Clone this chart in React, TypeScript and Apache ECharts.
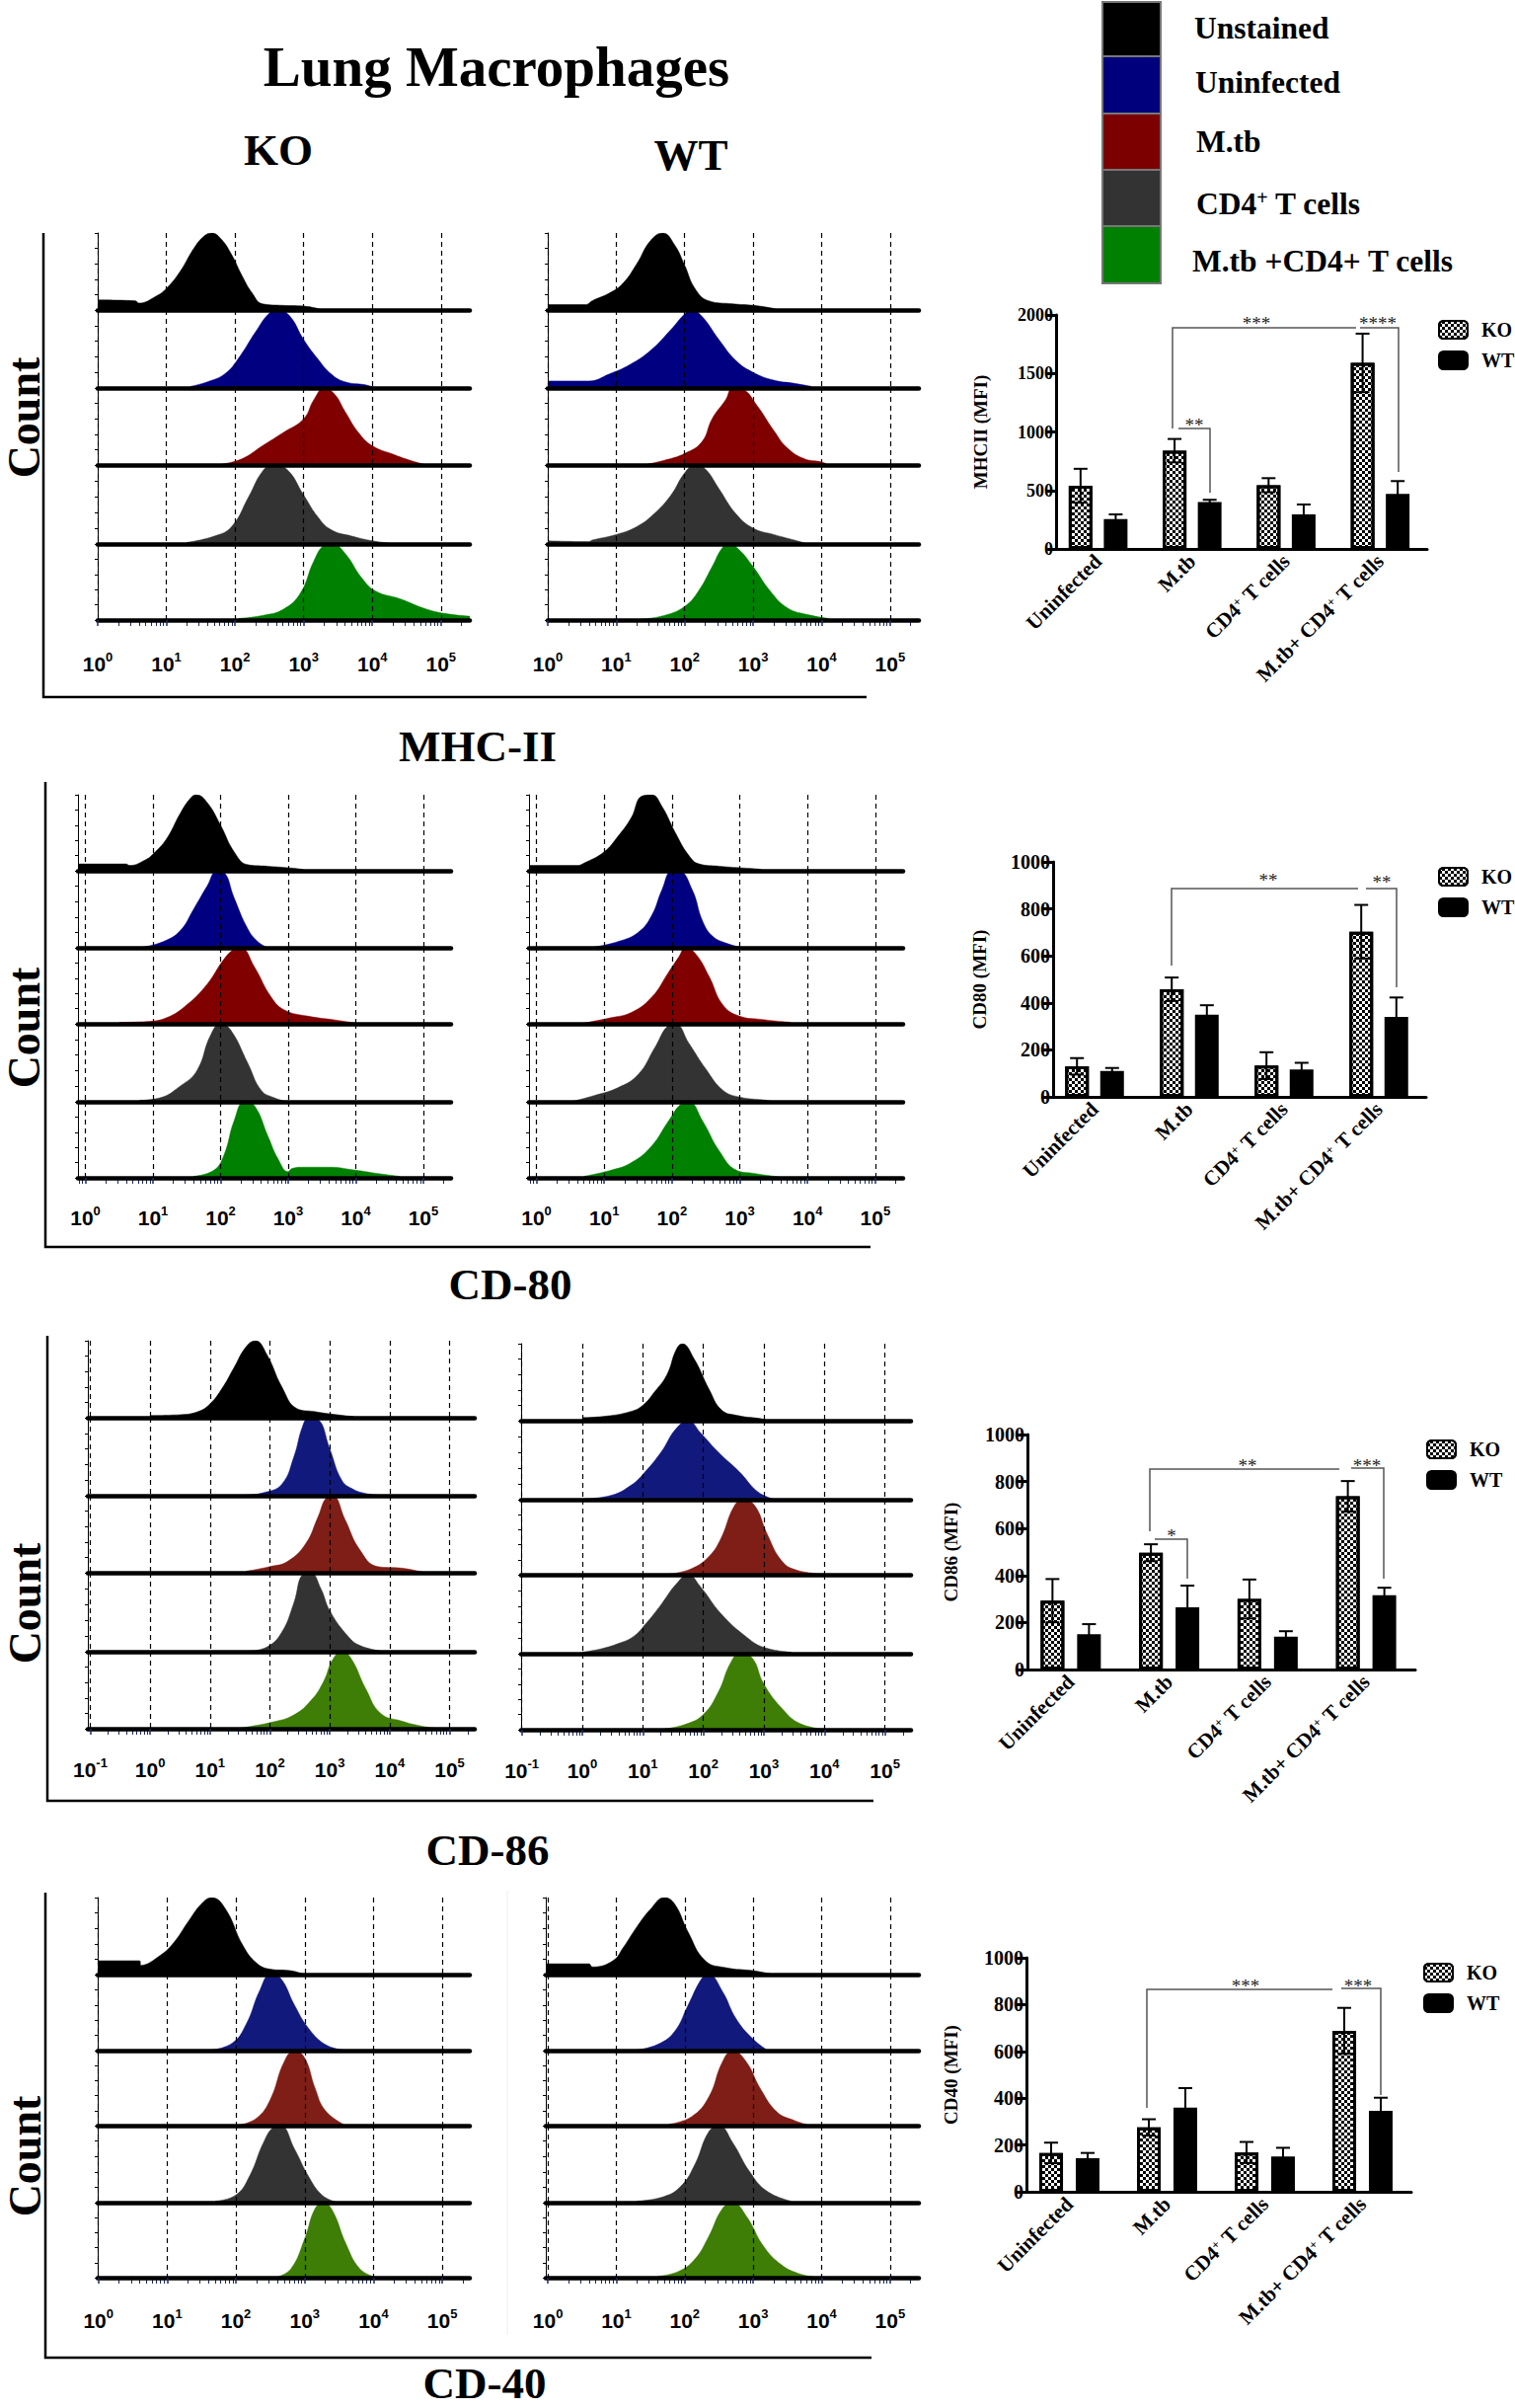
import React, { useEffect, useRef } from "react";
import * as echarts from "echarts";

type Pt = number[];

// ---------- histograms: [log10(fluorescence), % of panel height] ----------
const MHC_KO_UNSTAINED: Pt[] = [[0,13],[0.55,12],[0.6,9],[0.85,18],[1.0,28],[1.2,50],[1.4,80],[1.55,96],[1.66,100],[1.8,92],[1.95,72],[2.1,45],[2.25,22],[2.4,8],[2.7,6],[3.0,5],[3.2,2],[3.25,0]];
const MHC_KO_UNINFECTED: Pt[] = [[1.35,2],[1.6,8],[1.85,18],[2.05,38],[2.3,72],[2.5,96],[2.63,100],[2.8,92],[3.0,62],[3.2,38],[3.4,18],[3.6,8],[3.9,4],[4.05,0]];
const MHC_KO_MTB: Pt[] = [[1.8,1],[2.1,8],[2.4,25],[2.7,42],[3.0,60],[3.15,85],[3.3,100],[3.45,92],[3.6,70],[3.8,42],[4.0,25],[4.3,14],[4.55,6],[4.75,1]];
const MHC_KO_CD4: Pt[] = [[1.3,2],[1.7,10],[1.95,22],[2.2,60],[2.4,92],[2.55,100],[2.75,95],[3.0,62],[3.2,35],[3.4,18],[3.7,10],[4.0,4],[4.25,1]];
const MHC_KO_BOTH: Pt[] = [[2.05,2],[2.4,6],[2.7,14],[2.95,35],[3.15,78],[3.3,98],[3.42,100],[3.6,88],[3.85,55],[4.05,38],[4.4,28],[4.8,14],[5.1,8],[5.42,5]];
const MHC_WT_UNSTAINED: Pt[] = [[0,7],[0.55,7],[0.65,12],[0.9,22],[1.1,35],[1.3,60],[1.5,90],[1.68,100],[1.85,85],[2.0,58],[2.15,28],[2.35,12],[2.7,8],[3.0,6],[3.3,2],[3.35,0]];
const MHC_WT_UNINFECTED: Pt[] = [[0,9],[0.6,9],[0.9,18],[1.2,30],[1.5,48],[1.8,75],[2.0,95],[2.1,100],[2.25,92],[2.5,62],[2.75,35],[3.0,20],[3.3,10],[3.6,6],[3.85,2]];
const MHC_WT_MTB: Pt[] = [[1.45,1],[1.7,6],[2.0,15],[2.25,30],[2.4,60],[2.6,85],[2.7,100],[2.85,98],[3.05,78],[3.3,45],[3.5,22],[3.75,8],[4.0,4],[4.1,0]];
const MHC_WT_CD4: Pt[] = [[0,4],[0.6,3],[0.65,5],[1.0,12],[1.3,22],[1.55,38],[1.8,62],[2.0,90],[2.15,100],[2.3,95],[2.5,70],[2.75,38],[3.0,20],[3.3,12],[3.6,5],[3.8,0]];
const MHC_WT_BOTH: Pt[] = [[1.35,1],[1.7,6],[2.0,18],[2.2,38],[2.4,70],[2.55,95],[2.65,100],[2.8,92],[3.0,70],[3.25,38],[3.5,16],[3.8,7],[4.1,2]];

const CD80_KO_UNSTAINED: Pt[] = [[-0.11,9],[0.6,9],[0.65,7],[0.9,15],[1.0,22],[1.2,42],[1.4,75],[1.55,95],[1.64,100],[1.8,90],[2.0,60],[2.2,25],[2.4,8],[2.7,6],[3.0,4],[3.2,2],[3.25,0]];
const CD80_KO_UNINFECTED: Pt[] = [[0.85,1],[1.15,8],[1.4,22],[1.6,50],[1.8,80],[1.95,100],[2.05,98],[2.2,65],[2.4,25],[2.55,8],[2.7,0]];
const CD80_KO_MTB: Pt[] = [[0.5,2],[0.9,3],[1.2,8],[1.5,25],[1.8,52],[2.05,85],[2.2,98],[2.3,100],[2.5,75],[2.75,35],[2.95,18],[3.3,10],[3.7,5],[4.0,1]];
const CD80_KO_CD4: Pt[] = [[0.8,2],[1.1,5],[1.4,20],[1.65,40],[1.85,85],[2.0,100],[2.15,92],[2.4,50],[2.6,15],[2.8,5],[3.0,0]];
const CD80_KO_BOTH: Pt[] = [[1.6,2],[1.9,10],[2.05,30],[2.2,75],[2.35,100],[2.5,95],[2.7,55],[2.85,25],[3.0,8],[3.05,12],[3.2,14],[3.6,14],[4.0,10],[4.3,6],[4.65,2]];
const CD80_WT_UNSTAINED: Pt[] = [[-0.11,7],[0.6,7],[0.7,10],[1.0,25],[1.2,45],[1.4,70],[1.55,98],[1.7,100],[1.85,85],[2.05,50],[2.25,20],[2.4,9],[2.7,6],[3.0,4],[3.3,2],[3.35,0]];
const CD80_WT_UNINFECTED: Pt[] = [[0.85,1],[1.2,8],[1.5,20],[1.7,42],[1.85,75],[2.0,100],[2.1,100],[2.3,75],[2.45,35],[2.6,15],[2.8,6],[3.0,1]];
const CD80_WT_MTB: Pt[] = [[0.7,1],[1.1,8],[1.4,15],[1.7,35],[1.95,68],[2.1,88],[2.2,100],[2.35,92],[2.55,62],[2.75,25],[3.0,10],[3.3,6],[3.75,2]];
const CD80_WT_CD4: Pt[] = [[0.55,1],[0.85,8],[1.2,18],[1.5,35],[1.75,70],[1.95,98],[2.05,100],[2.25,75],[2.5,42],[2.75,15],[3.0,6],[3.4,2],[3.5,0]];
const CD80_WT_BOTH: Pt[] = [[0.7,2],[1.1,10],[1.4,20],[1.7,42],[1.95,75],[2.15,98],[2.25,100],[2.45,75],[2.7,35],[2.95,10],[3.2,6],[3.6,1]];

const CD86_KO_UNSTAINED: Pt[] = [[0,3],[0.5,4],[0.8,8],[1.0,18],[1.2,38],[1.4,65],[1.6,92],[1.76,100],[1.95,82],[2.2,40],[2.45,12],[2.75,8],[3.0,5],[3.4,1.5]];
const CD86_KO_UNINFECTED: Pt[] = [[1.6,1],[1.9,4],[2.2,15],[2.4,50],[2.55,90],[2.65,100],[2.8,98],[3.0,60],[3.2,20],[3.4,8],[3.6,3],[3.8,1]];
const CD86_KO_MTB: Pt[] = [[1.6,2],[2.0,8],[2.3,15],[2.6,38],[2.8,72],[2.95,98],[3.05,100],[3.25,70],[3.5,30],[3.8,8],[4.2,6],[4.55,1]];
const CD86_KO_CD4: Pt[] = [[1.65,1],[1.95,6],[2.2,25],[2.4,62],[2.55,98],[2.68,100],[2.85,80],[3.0,52],[3.3,20],[3.5,8],[3.85,1]];
const CD86_KO_BOTH: Pt[] = [[1.5,1],[2.0,8],[2.4,18],[2.7,38],[2.9,62],[3.05,90],[3.2,100],[3.35,92],[3.6,52],[3.85,20],[4.2,10],[4.5,4],[4.75,1]];
const CD86_WT_UNSTAINED: Pt[] = [[0,4],[0.4,6],[0.8,12],[1.0,20],[1.2,38],[1.4,60],[1.55,92],[1.65,100],[1.85,80],[2.1,40],[2.3,14],[2.55,7],[3.0,2],[3.05,0]];
const CD86_WT_UNINFECTED: Pt[] = [[0.05,1],[0.5,6],[0.8,18],[1.0,32],[1.3,60],[1.55,90],[1.75,100],[1.95,85],[2.25,60],[2.6,35],[2.9,10],[3.15,1]];
const CD86_WT_MTB: Pt[] = [[1.45,1],[1.8,8],[2.1,25],[2.3,50],[2.5,90],[2.65,100],[2.85,92],[3.05,55],[3.3,18],[3.55,6],[4.0,1]];
const CD86_WT_CD4: Pt[] = [[0,2],[0.3,6],[0.6,13],[0.85,22],[1.05,38],[1.3,62],[1.55,88],[1.75,100],[1.95,85],[2.3,50],[2.7,22],[3.0,8],[3.45,2]];
const CD86_WT_BOTH: Pt[] = [[1.35,1],[1.7,7],[2.0,20],[2.25,50],[2.45,88],[2.6,100],[2.8,95],[3.0,60],[3.3,28],[3.6,8],[4.0,1]];

const CD40_KO_UNSTAINED: Pt[] = [[0,18],[0.6,18],[0.62,12],[0.9,25],[1.1,42],[1.3,68],[1.5,92],[1.65,100],[1.85,85],[2.1,38],[2.3,15],[2.5,7],[2.8,5],[3.0,0]];
const CD40_KO_UNINFECTED: Pt[] = [[1.65,1],[1.95,10],[2.15,35],[2.35,80],[2.5,100],[2.65,95],[2.85,60],[3.05,30],[3.3,8],[3.55,1]];
const CD40_KO_MTB: Pt[] = [[2.05,1],[2.3,10],[2.5,35],[2.7,85],[2.85,100],[3.0,90],[3.15,50],[3.3,20],[3.58,1]];
const CD40_KO_CD4: Pt[] = [[1.7,2],[2.0,10],[2.2,35],[2.4,78],[2.55,98],[2.65,100],[2.85,70],[3.05,35],[3.25,10],[3.45,1]];
const CD40_KO_BOTH: Pt[] = [[2.6,1],[2.8,12],[3.0,52],[3.15,92],[3.27,100],[3.4,90],[3.6,45],[3.8,12],[4.02,1]];
const CD40_WT_UNSTAINED: Pt[] = [[-0.03,14],[0.6,14],[0.65,10],[0.95,18],[1.1,35],[1.3,62],[1.5,85],[1.7,100],[1.85,92],[2.05,55],[2.3,18],[2.6,9],[3.0,5],[3.25,1]];
const CD40_WT_UNINFECTED: Pt[] = [[1.3,1],[1.6,8],[1.85,25],[2.05,60],[2.25,95],[2.35,100],[2.55,78],[2.75,42],[3.0,15],[3.2,1]];
const CD40_WT_MTB: Pt[] = [[1.77,2],[2.1,12],[2.35,38],[2.55,85],[2.7,100],[2.9,85],[3.1,50],[3.35,18],[3.6,7],[3.8,1]];
const CD40_WT_CD4: Pt[] = [[1.3,2],[1.7,8],[1.95,22],[2.15,50],[2.35,92],[2.5,100],[2.7,78],[2.95,40],[3.2,15],[3.55,2]];
const CD40_WT_BOTH: Pt[] = [[1.6,2],[1.9,8],[2.15,25],[2.35,55],[2.55,92],[2.7,100],[2.9,82],[3.15,42],[3.4,18],[3.65,6],[3.9,1]];

// ---------- bar charts ----------
const CATEGORIES = ["Uninfected", "M.tb", "CD4+ T cells", "M.tb+ CD4+ T cells"];
const MHC_KO = [540, 840, 545, 1590];
const MHC_KO_TOP = [685, 940, 605, 1840];
const MHC_WT = [255, 400, 295, 470];
const MHC_WT_TOP = [295, 420, 380, 580];
const CD80_KO = [130, 458, 133, 703];
const CD80_KO_TOP = [165, 508, 190, 817];
const CD80_WT = [110, 350, 117, 340];
const CD80_WT_TOP = [123, 390, 145, 423];
const CD86_KO = [293, 497, 300, 737];
const CD86_KO_TOP = [385, 533, 383, 802];
const CD86_WT = [150, 265, 140, 316];
const CD86_WT_TOP = [193, 357, 163, 348];
const CD40_KO = [166, 275, 168, 688];
const CD40_KO_TOP = [210, 310, 213, 786];
const CD40_WT = [143, 360, 151, 346];
const CD40_WT_TOP = [166, 443, 188, 402];

const SERIF = "Liberation Serif";
const SANS = "Liberation Sans";
const COLORS_A = ["#000000", "#000080", "#800000", "#333333", "#008000"];
const COLORS_B = ["#000000", "#12197c", "#7e1e16", "#333333", "#3e7d06"];
const LEGEND_NAMES = ["Unstained", "Uninfected", "M.tb", "CD4+ T cells", "M.tb +CD4+ T cells"];

const ROWS = [
  { colors: COLORS_A, labelMargin: 31, xTicks: [0, 1, 2, 3, 4, 5], cols: [
    { left: 99, right: 476, min: 0, max: 5.42, tops: [236, 314, 393, 471, 551, 628], hist: [MHC_KO_UNSTAINED, MHC_KO_UNINFECTED, MHC_KO_MTB, MHC_KO_CD4, MHC_KO_BOTH] },
    { left: 555, right: 931, min: 0, max: 5.42, tops: [236, 314, 393, 471, 551, 628], hist: [MHC_WT_UNSTAINED, MHC_WT_UNINFECTED, MHC_WT_MTB, MHC_WT_CD4, MHC_WT_BOTH] },
  ] },
  { colors: COLORS_A, labelMargin: 27, xTicks: [0, 1, 2, 3, 4, 5], cols: [
    { left: 79, right: 457, min: -0.11, max: 5.41, tops: [805, 882, 960, 1037, 1116, 1193], hist: [CD80_KO_UNSTAINED, CD80_KO_UNINFECTED, CD80_KO_MTB, CD80_KO_CD4, CD80_KO_BOTH] },
    { left: 536, right: 915, min: -0.11, max: 5.41, tops: [805, 882, 960, 1037, 1116, 1193], hist: [CD80_WT_UNSTAINED, CD80_WT_UNINFECTED, CD80_WT_MTB, CD80_WT_CD4, CD80_WT_BOTH] },
  ] },
  { colors: COLORS_B, labelMargin: 28, xTicks: [-1, 0, 1, 2, 3, 4, 5], cols: [
    { left: 89, right: 481, min: -1.04, max: 5.42, tops: [1358, 1436, 1515, 1593, 1673, 1751], hist: [CD86_KO_UNSTAINED, CD86_KO_UNINFECTED, CD86_KO_MTB, CD86_KO_CD4, CD86_KO_BOTH] },
    { left: 528, right: 923, min: -1.01, max: 5.43, tops: [1361, 1439, 1519, 1595, 1675, 1752], hist: [CD86_WT_UNSTAINED, CD86_WT_UNINFECTED, CD86_WT_MTB, CD86_WT_CD4, CD86_WT_BOTH] },
  ] },
  { colors: COLORS_B, labelMargin: 30, xTicks: [0, 1, 2, 3, 4, 5], cols: [
    { left: 99, right: 476, min: -0.01, max: 5.4, tops: [1922, 2000, 2077, 2153, 2231, 2307], hist: [CD40_KO_UNSTAINED, CD40_KO_UNINFECTED, CD40_KO_MTB, CD40_KO_CD4, CD40_KO_BOTH] },
    { left: 553, right: 931, min: -0.03, max: 5.42, tops: [1922, 2000, 2077, 2153, 2231, 2307], hist: [CD40_WT_UNSTAINED, CD40_WT_UNINFECTED, CD40_WT_MTB, CD40_WT_CD4, CD40_WT_BOTH] },
  ] },
];

const BARS = [
  { label: "MHCII (MFI)", max: 2000, step: 500, left: 1065, width: 381, top: 319, bottom: 556, axisShift: 5, gap: "48%", nameGap: 67, spacing: 35.6, font: 18,
    ko: MHC_KO, koTop: MHC_KO_TOP, wt: MHC_WT, wtTop: MHC_WT_TOP, legend: [1457, 324, 18],
    brackets: [[[1188, 434], [1188, 332], [1374, 332]], [[1378, 332], [1417, 332], [1417, 478]], [[1194, 434], [1226, 434], [1226, 499]]],
    stars: [["***", 1273, 327], ["****", 1396, 327], ["**", 1210, 430]] },
  { label: "CD80 (MFI)", max: 1000, step: 200, left: 1061, width: 384, top: 873, bottom: 1111, axisShift: 6, gap: "48%", nameGap: 65, spacing: 35.6, font: 20,
    ko: CD80_KO, koTop: CD80_KO_TOP, wt: CD80_WT, wtTop: CD80_WT_TOP, legend: [1457, 878, 18],
    brackets: [[[1187, 978], [1187, 900], [1376, 900]], [[1384, 900], [1415, 900], [1415, 1000]]],
    stars: [["**", 1285, 891], ["**", 1400, 893]] },
  { label: "CD86 (MFI)", max: 1000, step: 200, left: 1035, width: 399, top: 1453, bottom: 1691, axisShift: 6, gap: "54%", nameGap: 68, spacing: 37, font: 20,
    ko: CD86_KO, koTop: CD86_KO_TOP, wt: CD86_WT, wtTop: CD86_WT_TOP, legend: [1445, 1458, 18],
    brackets: [[[1165, 1551], [1165, 1488], [1357, 1488]], [[1369, 1487], [1402, 1487], [1402, 1599]], [[1170, 1559], [1203, 1559], [1203, 1599]]],
    stars: [["**", 1264, 1484], ["***", 1385, 1484], ["*", 1187, 1555]] },
  { label: "CD40 (MFI)", max: 1000, step: 200, left: 1034, width: 396, top: 1983, bottom: 2220, axisShift: 6, gap: "54%", nameGap: 67, spacing: 37, font: 20,
    ko: CD40_KO, koTop: CD40_KO_TOP, wt: CD40_WT, wtTop: CD40_WT_TOP, legend: [1442, 1988, 18],
    brackets: [[[1162, 2135], [1162, 2015], [1350, 2015]], [[1359, 2014], [1399, 2014], [1399, 2122]]],
    stars: [["***", 1262, 2011], ["***", 1376, 2011]] },
];

const boldText = (text: string, x: number, y: number, size: number, extra: any = {}) => ({
  type: "text", x, y, silent: true, ...extra,
  style: { text, fontFamily: SERIF, fontWeight: "bold", fontSize: size, fill: "#000", align: "center", verticalAlign: "middle", ...(extra.style || {}) },
});

const polyline = (points: number[][], lineWidth: number, stroke = "#000") => ({
  type: "polyline", silent: true, shape: { points }, style: { stroke, lineWidth, fill: "none" },
});

function minorTicks(min: number, max: number) {
  const out: number[] = [];
  for (let d = Math.floor(min); d <= Math.ceil(max); d++) {
    for (let m = 2; m <= 9; m++) {
      const v = d + Math.log10(m);
      if (v >= min && v <= max) out.push(v);
    }
  }
  return out;
}

function buildOption() {
  const grid: any[] = [], xAxis: any[] = [], yAxis: any[] = [], series: any[] = [], legend: any[] = [];
  const graphic: any[] = [];

  ROWS.forEach((row) => {
    row.cols.forEach((col) => {
      col.hist.forEach((data, p) => {
        const idx = grid.length;
        const last = p === col.hist.length - 1;
        const top = col.tops[p], bottom = col.tops[p + 1];
        grid.push({ left: col.left, width: col.right - col.left, top, height: bottom - top });
        xAxis.push({
          gridIndex: idx, type: "value", min: col.min, max: col.max, z: 3,
          axisLine: { show: true, onZero: false, lineStyle: { color: "#000", width: 4.5 } },
          axisTick: { show: last, length: 6, customValues: row.xTicks, lineStyle: { color: "#1c2a5c", width: 1.5 } },
          axisLabel: {
            show: last, margin: row.labelMargin, customValues: row.xTicks,
            formatter: (v: number) => `{b|10}{s|${v}}`,
            rich: {
              b: { fontFamily: SANS, fontWeight: "bold", fontSize: 21, color: "#000", lineHeight: 26 },
              s: { fontFamily: SANS, fontWeight: "bold", fontSize: 13, color: "#000", verticalAlign: "top", lineHeight: 24 },
            },
          },
          splitLine: { show: true, lineStyle: { color: "#000", width: 1.2, type: [5, 4] } },
        });
        yAxis.push({
          gridIndex: idx, type: "value", min: 0, max: 100, interval: 20,
          axisLine: { show: true, onZero: false, lineStyle: { color: "#000", width: 1 } },
          axisTick: { show: true, length: 3, lineStyle: { color: "#000", width: 1 } },
          axisLabel: { show: false }, splitLine: { show: false },
        });
        const color = row.colors[p];
        series.push({
          type: "line", xAxisIndex: idx, yAxisIndex: idx, data, showSymbol: false, silent: true,
          smooth: 0.45,
          lineStyle: { color, width: 0.5 }, itemStyle: { color }, areaStyle: { color, opacity: 1 }, z: 2,
        });
      });
      // log-spaced minor ticks under the last panel
      const idx = grid.length;
      grid.push({ left: col.left, width: col.right - col.left, top: col.tops[5] + 1, height: 1 });
      xAxis.push({
        gridIndex: idx, type: "value", min: col.min, max: col.max,
        axisLine: { show: false },
        axisTick: { show: true, length: 4, customValues: minorTicks(col.min, col.max), lineStyle: { color: "#1c2a5c", width: 1 } },
        axisLabel: { show: false }, splitLine: { show: false },
      });
      yAxis.push({ gridIndex: idx, type: "value", show: false, min: 0, max: 1 });
    });
  });

  BARS.forEach((b) => {
    const idx = grid.length;
    grid.push({ left: b.left, width: b.width, top: b.top, height: b.bottom - b.top });
    xAxis.push({
      gridIndex: idx, type: "category", data: CATEGORIES,
      axisLine: { lineStyle: { color: "#000", width: 3 } }, axisTick: { show: false },
      axisLabel: {
        rotate: 45, margin: 9, interval: 0,
        formatter: (v: string) => `{b|${v.replace("CD4+ ", "CD4}{s|+}{b| ")}}`,
        rich: {
          b: { fontFamily: SERIF, fontWeight: "bold", fontSize: 21, color: "#000" },
          s: { fontFamily: SERIF, fontWeight: "bold", fontSize: 13, color: "#000", verticalAlign: "top" },
        },
      },
    });
    yAxis.push({
      gridIndex: idx, type: "value", min: 0, max: b.max, interval: b.step, offset: -b.axisShift,
      name: b.label, nameLocation: "middle", nameGap: b.nameGap,
      nameTextStyle: { fontFamily: SERIF, fontWeight: "bold", fontSize: 19, color: "#000" },
      axisLine: { show: true, onZero: false, lineStyle: { color: "#000", width: 3 } },
      axisTick: { show: true, length: 10, lineStyle: { color: "#000", width: 3 } },
      axisLabel: { fontFamily: SERIF, fontWeight: "bold", fontSize: b.font, color: "#000", margin: 3, formatter: (v: number) => String(v) },
      splitLine: { show: false },
    });
    const koStyle = {
      color: "#fff", borderColor: "#000", borderWidth: 3,
      decal: { symbol: "rect", symbolSize: 1, dashArrayX: [[3, 3], [0, 3, 3, 0]], dashArrayY: [3, 0], rotation: 0, color: "#000", backgroundColor: "#fff" },
    };
    const wtStyle = { color: "#000", borderColor: "#000", borderWidth: 3 };
    series.push({ name: "KO", type: "bar", xAxisIndex: idx, yAxisIndex: idx, data: b.ko, barWidth: 24, barGap: b.gap, itemStyle: koStyle, z: 2, silent: true });
    series.push({ name: "WT", type: "bar", xAxisIndex: idx, yAxisIndex: idx, data: b.wt, barWidth: 24, barGap: b.gap, itemStyle: wtStyle, z: 2, silent: true });
    [
      { vals: b.ko, tops: b.koTop, shift: -b.spacing / 2, name: "KO error" },
      { vals: b.wt, tops: b.wtTop, shift: b.spacing / 2, name: "WT error" },
    ].forEach((e) => {
      series.push({
        type: "custom", name: e.name, xAxisIndex: idx, yAxisIndex: idx, z: 3, silent: true,
        data: e.vals.map((v, i) => [i, e.tops[i], v - (e.tops[i] - v)]),
        encode: { x: 0, y: [1, 2] },
        renderItem: (_: any, api: any) => {
          const hi = api.coord([api.value(0), api.value(1)]);
          const lo = api.coord([api.value(0), api.value(2)]);
          const x = hi[0] + e.shift;
          const style = { stroke: "#000", lineWidth: 2, fill: "none" };
          const line = (x1: number, y1: number, x2: number, y2: number) => ({ type: "line", shape: { x1, y1, x2, y2 }, style });
          return { type: "group", children: [line(x, hi[1], x, lo[1]), line(x - 7, hi[1], x + 7, hi[1]), line(x - 7, lo[1], x + 7, lo[1])] };
        },
      });
    });
    legend.push({
      data: ["KO", "WT"], orient: "vertical", left: b.legend[0], top: b.legend[1], itemWidth: 29, itemHeight: b.legend[2], itemGap: 11,
      selectedMode: false, padding: 0, textStyle: { fontFamily: SERIF, fontWeight: "bold", fontSize: 20, color: "#000", padding: [0, 0, 0, 9] },
    });
    b.brackets.forEach((pts: any) => graphic.push(polyline(pts, 1.5, "#555")));
    b.stars.forEach((s: any) => graphic.push({
      type: "text", x: s[1], y: s[2], silent: true,
      style: { text: s[0], fontFamily: SERIF, fontSize: 19, fill: "#222", align: "center", verticalAlign: "middle" },
    }));
  });

  // titles
  graphic.push(boldText("Lung Macrophages", 503, 67, 57));
  graphic.push(boldText("KO", 282, 152, 45));
  graphic.push(boldText("WT", 700, 157, 45));
  [["MHC-II", 484, 756, 45], ["CD-80", 517, 1301, 45], ["CD-86", 494, 1874, 45], ["CD-40", 491, 2414, 45]].forEach((t: any) => graphic.push(boldText(t[0], t[1], t[2], t[3])));
  [[24, 423], [24, 1041], [25, 1624], [25, 2184]].forEach((c) =>
    graphic.push(boldText("Count", c[0], c[1], 46, { rotation: Math.PI / 2 })));

  // L-shaped frames
  [[44, 236, 706, 878], [46, 792, 1263, 882], [48, 1353, 1824, 885], [46, 1917, 2388, 883]].forEach((f) =>
    graphic.push(polyline([[f[0], f[1]], [f[0], f[2]], [f[3], f[2]]], 2.5)));
  graphic.push(polyline([[514, 1915], [514, 2365]], 1, "#eeeeee"));

  // colour key
  const keyY = [2, 57, 115, 172, 229, 287];
  COLORS_A.forEach((c, i) => {
    const key = c === "#000080" ? "#00007d" : c === "#800000" ? "#7d0000" : c;
    graphic.push({ type: "rect", silent: true, shape: { x: 1117, y: keyY[i], width: 59, height: keyY[i + 1] - keyY[i] }, style: { fill: key, stroke: "#777", lineWidth: 2 } });
  });
  const keyText: any[] = [[1210, 28], [1211, 83], [1212, 143], [1212, 206], [1208, 264]];
  LEGEND_NAMES.forEach((n, i) => {
    const sup = n === "CD4+ T cells";
    graphic.push({
      type: "text", x: keyText[i][0], y: keyText[i][1], silent: true,
      style: sup
        ? { text: "{a|CD4}{s|+}{a| T cells}", align: "left", verticalAlign: "middle",
            rich: { a: { fontFamily: SERIF, fontWeight: "bold", fontSize: 31.5, fill: "#000" }, s: { fontFamily: SERIF, fontWeight: "bold", fontSize: 20, fill: "#000", verticalAlign: "top" } } }
        : { text: n, fontFamily: SERIF, fontWeight: "bold", fontSize: 31.5, fill: "#000", align: "left", verticalAlign: "middle" },
    });
  });

  return { animation: false, backgroundColor: "#fff", grid, xAxis, yAxis, series, legend, graphic };
}

export default function App() {
  const ref = useRef<HTMLDivElement>(null);
  useEffect(() => {
    document.body.style.margin = "0";
    const chart = echarts.init(ref.current!, undefined, { renderer: "svg" });
    chart.setOption(buildOption() as any);
    return () => chart.dispose();
  }, []);
  return <div ref={ref} style={{ width: 1535, height: 2439 }} />;
}
